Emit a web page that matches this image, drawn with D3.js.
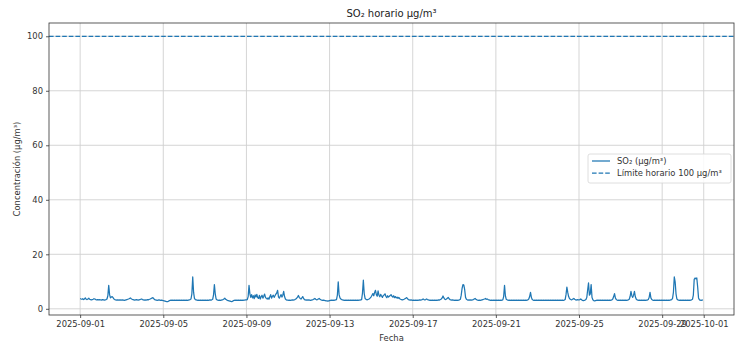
<!DOCTYPE html>
<html>
<head>
<meta charset="utf-8">
<script src="https://cdn.jsdelivr.net/npm/d3@7"></script>
<style>
  html, body { margin: 0; padding: 0; background: #fff; }
  svg { display: block; font-family: "DejaVu Sans", sans-serif; }
</style>
</head>
<body>
<svg id="chart" width="739" height="347"></svg>
<script>
// Hourly SO2 concentration (µg/m³), one row of 24 hourly values per day, September 2025
const startDay = [2025, 8, 1];
const hourlySO2 = [
  "3.8 3.6 3.5 3.7 3.4 3.6 4.0 3.5 3.4 3.6 3.9 3.5 3.4 3.3 3.4 3.5 3.7 3.6 3.4 3.3 3.4 3.3 3.4 3.3",
  "3.3 3.2 3.4 3.3 3.2 3.3 3.4 3.6 4.8 8.6 5.2 4.0 4.3 4.5 4.1 3.6 3.4 3.3 3.2 3.3 3.2 3.3 3.2 3.3",
  "3.2 3.3 3.2 3.1 3.2 3.3 3.4 3.5 3.6 3.8 4.0 3.7 3.5 3.4 3.3 3.2 3.3 3.4 3.3 3.2 3.3 3.4 3.5 3.6",
  "3.4 3.3 3.2 3.3 3.2 3.3 3.4 3.3 3.5 3.6 3.8 3.9 4.1 3.7 3.4 3.3 3.2 3.1 3.2 3.3 3.2 3.1 3.2 3.1",
  "3.0 2.9 2.8 2.7 2.6 2.6 2.8 3.0 3.1 3.2 3.1 3.2 3.1 3.2 3.1 3.2 3.1 3.2 3.1 3.2 3.1 3.2 3.1 3.2",
  "3.1 3.2 3.1 3.2 3.1 3.2 3.3 3.4 3.6 5.5 11.7 6.0 3.8 3.4 3.3 3.2 3.1 3.2 3.1 3.2 3.1 3.2 3.1 3.2",
  "3.1 3.2 3.1 3.2 3.1 3.2 3.3 3.2 3.3 3.5 5.0 8.9 5.5 3.6 3.3 3.2 3.1 3.2 3.1 3.2 3.3 3.4 3.6 3.9",
  "3.5 3.3 3.1 3.0 2.9 2.8 2.7 2.6 2.8 3.0 3.1 3.2 3.1 3.2 3.1 3.2 3.1 3.2 3.1 3.2 3.1 3.2 3.2 3.3",
  "3.3 3.4 4.5 8.6 5.5 4.2 5.2 4.0 4.8 3.7 5.1 4.3 5.3 4.1 3.8 4.9 3.6 4.4 5.0 3.9 4.6 5.4 4.2 3.8",
  "3.6 4.0 3.5 4.4 5.2 3.9 4.6 5.0 4.2 4.8 5.4 5.8 6.8 4.4 3.9 4.6 5.2 4.3 5.0 6.4 4.5 3.6 3.3 3.2",
  "3.2 3.1 3.2 3.1 3.2 3.3 3.2 3.3 3.4 3.6 3.9 4.3 4.9 4.2 3.8 3.6 4.0 4.5 3.8 3.4 3.3 3.2 3.3 3.2",
  "3.3 3.2 3.1 3.2 3.3 3.4 3.6 3.8 3.5 3.3 3.4 3.6 3.8 3.5 3.3 3.2 3.1 3.2 3.1 3.0 2.9 2.9 2.8 2.9",
  "3.0 3.1 3.2 3.1 3.2 3.1 3.2 3.3 3.4 5.0 9.9 5.2 4.0 3.6 3.4 3.3 3.2 3.1 3.2 3.1 3.2 3.1 3.2 3.1",
  "3.2 3.1 3.2 3.1 3.2 3.1 3.2 3.1 3.2 3.1 3.2 3.2 3.3 3.4 5.8 10.5 5.6 3.8 3.5 3.3 3.4 3.5 3.7 4.0",
  "4.4 5.0 5.6 4.8 6.0 6.8 5.2 4.6 6.6 5.0 4.4 5.3 4.7 4.2 4.9 5.1 5.5 4.6 4.1 4.8 4.3 4.6 4.9 5.2",
  "4.6 4.3 4.8 4.1 4.5 4.0 4.3 3.8 4.2 3.7 3.5 3.4 3.3 3.4 3.5 3.7 3.9 4.1 3.7 3.4 3.3 3.2 3.3 3.2",
  "3.1 3.2 3.1 3.2 3.1 3.2 3.1 3.2 3.3 3.2 3.3 3.4 3.6 3.4 3.3 3.4 3.6 3.4 3.3 3.2 3.1 3.2 3.1 3.2",
  "3.1 3.2 3.1 3.2 3.1 3.2 3.3 3.2 3.4 3.6 4.0 4.7 4.0 3.5 3.4 3.6 3.9 4.2 3.7 3.4 3.3 3.2 3.3 3.2",
  "3.1 3.2 3.1 3.2 3.1 3.2 3.3 3.5 5.0 7.5 8.9 8.7 7.0 4.2 3.5 3.3 3.2 3.3 3.2 3.3 3.2 3.3 3.4 3.6",
  "3.8 3.5 3.3 3.2 3.1 3.2 3.1 3.2 3.3 3.4 3.5 3.6 3.8 3.5 3.6 3.4 3.3 3.2 3.1 3.2 3.1 3.2 3.1 3.2",
  "3.1 3.2 3.1 3.2 3.1 3.2 3.1 3.2 3.3 4.5 8.6 4.8 3.5 3.3 3.2 3.1 3.2 3.1 3.2 3.1 3.2 3.1 3.2 3.1",
  "3.2 3.1 3.2 3.1 3.2 3.1 3.2 3.1 3.2 3.1 3.2 3.1 3.2 3.3 3.6 4.5 6.0 4.2 3.4 3.2 3.1 3.2 3.1 3.2",
  "3.1 3.2 3.1 3.2 3.1 3.2 3.1 3.2 3.1 3.2 3.1 3.2 3.1 3.2 3.1 3.2 3.1 3.2 3.1 3.2 3.1 3.2 3.1 3.2",
  "3.1 3.2 3.1 3.2 3.1 3.2 3.1 3.2 3.4 5.2 8.0 6.0 4.5 3.8 3.5 3.3 3.4 3.6 3.8 3.5 3.3 3.2 3.4 3.3",
  "3.3 3.4 3.6 3.3 3.1 3.0 3.1 3.2 3.4 4.2 7.0 9.5 5.0 5.5 8.9 4.2 3.3 3.0 2.9 3.0 3.1 3.2 3.1 3.2",
  "3.1 3.2 3.1 3.2 3.1 3.2 3.1 3.2 3.1 3.2 3.1 3.2 3.1 3.2 3.3 3.6 4.5 5.6 4.0 3.4 3.2 3.1 3.2 3.1",
  "3.2 3.1 3.2 3.1 3.2 3.1 3.2 3.1 3.2 3.3 3.5 4.5 6.4 4.8 4.2 5.0 6.4 4.5 3.6 3.3 3.2 3.1 3.2 3.1",
  "3.2 3.1 3.2 3.1 3.2 3.1 3.2 3.2 3.4 4.2 6.0 4.0 3.4 3.2 3.1 3.2 3.1 3.2 3.1 3.2 3.1 3.2 3.1 3.2",
  "3.1 3.2 3.1 3.2 3.1 3.2 3.1 3.2 3.1 3.2 3.3 3.4 3.8 6.0 11.7 9.9 5.5 3.6 3.3 3.2 3.1 3.2 3.1 3.2",
  "3.1 3.2 3.1 3.2 3.1 3.2 3.1 3.2 3.1 3.2 3.3 3.5 5.0 10.8 11.3 11.0 11.3 8.0 4.0 3.3 3.2 3.1 3.2 3.3"
];
const hourlyLimit = 100;
const xTickLabels = ["2025-09-01", "2025-09-05", "2025-09-09", "2025-09-13", "2025-09-17",
                     "2025-09-21", "2025-09-25", "2025-09-29", "2025-10-01"];
const yTickValues = [0, 20, 40, 60, 80, 100];
const seriesNames = ["SO\u2082 (\u00b5g/m\u00b3)", "L\u00edmite horario 100 \u00b5g/m\u00b3"];
const titleText = "SO\u2082 horario \u00b5g/m\u00b3";
const xLabelText = "Fecha";
const yLabelText = "Concentraci\u00f3n (\u00b5g/m\u00b3)";

// flatten day rows into timestamped points
const points = [];
hourlySO2.forEach((row, d) => {
  row.trim().split(/\s+/).forEach((v, h) => {
    points.push({ t: new Date(Date.UTC(startDay[0], startDay[1], startDay[2] + d, h)), v: +v });
  });
});

const svg = d3.select("#chart");
const plot = { left: 49, right: 734, top: 23, bottom: 315 };
const blue = "#1f77b4";

// matplotlib-like 5% margins around the data extent
const tExt = d3.extent(points, p => p.t);
const tSpan = tExt[1] - tExt[0];
const x = d3.scaleUtc()
  .domain([new Date(+tExt[0] - 0.05 * tSpan), new Date(+tExt[1] + 0.05 * tSpan)])
  .range([plot.left, plot.right]);
const vMin = d3.min(points, p => p.v);
const vSpan = hourlyLimit - vMin;
const y = d3.scaleLinear()
  .domain([vMin - 0.05 * vSpan, hourlyLimit + 0.05 * vSpan])
  .range([plot.bottom, plot.top]);

const xTicks = xTickLabels.map(s => new Date(s + "T00:00:00Z"));

// grid
const grid = svg.append("g").attr("stroke", "#d0d0d0").attr("stroke-width", 0.9);
grid.selectAll("line.gx").data(xTicks).join("line")
  .attr("x1", d => x(d)).attr("x2", d => x(d))
  .attr("y1", plot.top).attr("y2", plot.bottom);
grid.selectAll("line.gy").data(yTickValues).join("line")
  .attr("x1", plot.left).attr("x2", plot.right)
  .attr("y1", d => y(d)).attr("y2", d => y(d));

// limit line
svg.append("line")
  .attr("x1", plot.left).attr("x2", plot.right)
  .attr("y1", y(hourlyLimit)).attr("y2", y(hourlyLimit))
  .attr("stroke", blue).attr("stroke-width", 1.25)
  .attr("stroke-dasharray", "4.6,2");

// SO2 series
svg.append("path")
  .datum(points)
  .attr("fill", "none")
  .attr("stroke", blue)
  .attr("stroke-width", 1.25)
  .attr("stroke-linejoin", "round")
  .attr("d", d3.line().x(p => x(p.t)).y(p => y(p.v)));

// axes
const fmt = d3.utcFormat("%Y-%m-%d");
const xAxis = svg.append("g").attr("transform", `translate(0,${plot.bottom})`)
  .call(d3.axisBottom(x).tickValues(xTicks).tickFormat(fmt).tickSize(3).tickPadding(3));
const yAxis = svg.append("g").attr("transform", `translate(${plot.left},0)`)
  .call(d3.axisLeft(y).tickValues(yTickValues).tickSize(3).tickPadding(3));
[xAxis, yAxis].forEach(g => {
  g.select(".domain").remove();
  g.selectAll(".tick line").attr("stroke", "#333").attr("stroke-width", 0.8);
  g.selectAll(".tick text").attr("fill", "#333").attr("font-size", "8.4px")
    .attr("font-family", "DejaVu Sans, sans-serif");
});

// frame
svg.append("rect")
  .attr("x", plot.left).attr("y", plot.top)
  .attr("width", plot.right - plot.left).attr("height", plot.bottom - plot.top)
  .attr("fill", "none").attr("stroke", "#333").attr("stroke-width", 0.8);

// titles
svg.append("text").attr("x", (plot.left + plot.right) / 2).attr("y", 16.5)
  .attr("text-anchor", "middle").attr("font-size", "10px").attr("fill", "#222").text(titleText);
svg.append("text").attr("x", (plot.left + plot.right) / 2).attr("y", 341)
  .attr("text-anchor", "middle").attr("font-size", "8.4px").attr("fill", "#333").text(xLabelText);
svg.append("text")
  .attr("transform", `translate(20,${(plot.top + plot.bottom) / 2}) rotate(-90)`)
  .attr("text-anchor", "middle").attr("font-size", "8.4px").attr("fill", "#333").text(yLabelText);

// legend
const lg = svg.append("g").attr("transform", "translate(588,154)");
lg.append("rect").attr("width", 143).attr("height", 29).attr("rx", 2)
  .attr("fill", "#fff").attr("fill-opacity", 0.85).attr("stroke", "#d5d5d5").attr("stroke-width", 0.8);
seriesNames.forEach((name, i) => {
  const yy = 7 + i * 12;
  lg.append("line").attr("x1", 4).attr("x2", 22).attr("y1", yy).attr("y2", yy)
    .attr("stroke", blue).attr("stroke-width", 1.25)
    .attr("stroke-dasharray", i === 1 ? "4.6,2" : null);
  lg.append("text").attr("x", 29).attr("y", yy + 3).attr("font-size", "8.4px")
    .attr("fill", "#333").text(name);
});
</script>
</body>
</html>
